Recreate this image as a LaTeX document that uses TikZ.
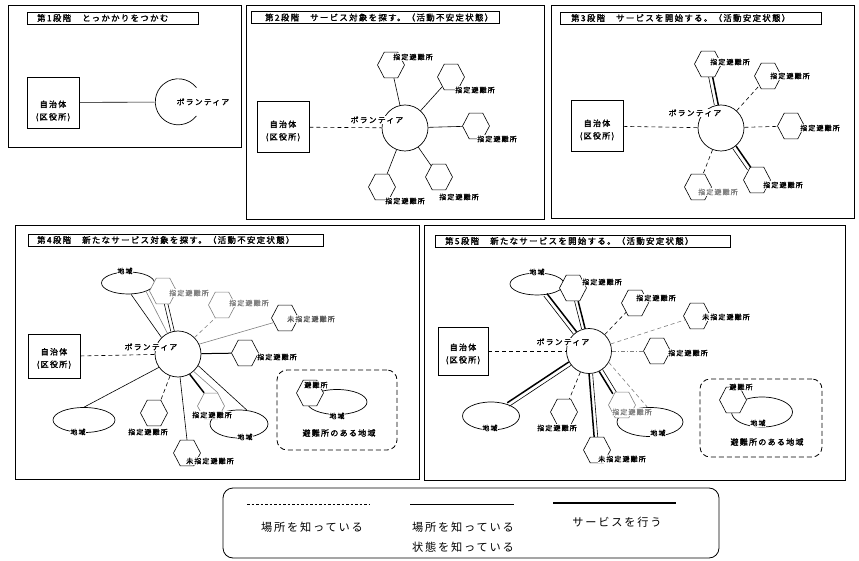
\documentclass[tikz,border=0pt]{standalone}
\usepackage{fontspec}
\newfontfamily\jp{Noto Sans CJK JP}[LetterSpace=16]
\newfontfamily\jpb{Noto Sans CJK JP}[LetterSpace=16,FakeBold=1.8]
\usetikzlibrary{shapes.geometric}
\begin{document}
\begin{tikzpicture}[x=1pt,y=1pt,
  frame/.style={draw, line width=0.8pt},
  ttlbox/.style={draw, line width=0.9pt, minimum height=12pt, inner sep=0pt, anchor=west},
  ttltext/.style={anchor=west, inner sep=0pt, font=\jpb\fontsize{8.4}{9}\selectfont},
  gov/.style={draw, line width=0.7pt, minimum width=52pt, minimum height=51pt, inner sep=0pt},
  govtext/.style={align=center, inner sep=0pt, font=\jpb\fontsize{8}{12.5}\selectfont},
  vol/.style={circle, draw, line width=0.7pt, minimum size=46pt, inner sep=0pt},
  voltext/.style={fill=white, inner sep=0.8pt, font=\jpb\fontsize{7.8}{8}\selectfont},
  hex/.style={regular polygon, regular polygon sides=6, draw, fill=white, line width=0.6pt, minimum size=27pt, inner sep=0pt, yscale=1.1, transform shape},
  area/.style={ellipse, draw, line width=0.7pt, inner sep=0pt},
  lbl/.style={fill=white, inner sep=0.6pt, font=\jpb\fontsize{7}{7}\selectfont},
  know/.style={line width=0.6pt},
  loc/.style={line width=0.6pt, dash pattern=on 4pt off 3pt},
  svc/.style={line width=1.5pt},
  grp/.style={draw, line width=0.8pt, dash pattern=on 5pt off 3pt, rounded corners=10pt},
  grptext/.style={inner sep=0pt, font=\jpb\fontsize{8}{9}\selectfont},
  legtext/.style={inner sep=0pt, font=\jp\fontsize{11.2}{12}\selectfont}
]
\useasboundingbox (0,0) rectangle (859,-561);

% ================= Panel 1 =================
\draw[frame] (8,-5) rectangle (241,-147);
\node[ttlbox, minimum width=171pt] (t1) at (27,-18) {};
\node[ttltext] (t1x) at ([xshift=10pt]t1.west) {第1段階　とっかかりをつかむ};
\node[gov] (a1) at (53,-102.5) {};
\node[govtext] (a1x) at (53,-111) {自治体\\(区役所)};
\node[vol, draw=none] (v1) at (178,-102) {};
\draw[line width=0.7pt] (v1.38) arc[start angle=38, end angle=322, radius=23pt];
\draw[know] (a1) -- (v1);
\node[inner sep=0pt, font=\jpb\fontsize{7.8}{8}\selectfont] (v1x) at (203,-102) {ボランティア};

% ================= Panel 2 =================
\draw[frame] (246,-5) rectangle (544,-219);
\node[ttlbox, minimum width=248pt] (t2) at (251,-17.5) {};
\node[ttltext] (t2x) at ([xshift=14pt]t2.west) {第2段階　サービス対象を探す。（活動不安定状態）};
\node[gov] (a2) at (283,-127) {};
\node[govtext] (a2x) at (283,-131) {自治体\\(区役所)};
\node[vol] (v2) at (405,-128) {};
\node[hex] (h21) at (391,-65) {};
\node[hex] (h22) at (451,-77) {};
\node[hex] (h23) at (476,-126) {};
\node[hex] (h24) at (382,-187) {};
\node[hex] (h25) at (439,-177) {};
\draw[loc] (a2) -- (v2);
\draw[know] (v2) -- (h21);
\draw[know] (v2) -- (h22);
\draw[know] (v2) -- (h23);
\draw[know] (v2) -- (h24);
\draw[know] (v2) -- (h25);
\node[voltext] (v2x) at (377,-120) {ボランティア};
\node[lbl] (h21x) at (413,-57) {指定避難所};
\node[lbl] (h22x) at (475,-90) {指定避難所};
\node[lbl] (h23x) at (497,-139) {指定避難所};
\node[lbl] (h24x) at (405,-201) {指定避難所};
\node[lbl] (h25x) at (459,-197) {指定避難所};

% ================= Panel 3 =================
\draw[frame] (551,-5) rectangle (854,-218);
\node[ttlbox, minimum width=261pt] (t3) at (560,-18) {};
\node[ttltext] (t3x) at ([xshift=11pt]t3.west) {第3段階　サービスを開始する。（活動安定状態）};
\node[gov] (a3) at (597,-126) {};
\node[govtext] (a3x) at (597,-130) {自治体\\(区役所)};
\node[vol] (v3) at (721,-128) {};
\node[hex] (h31) at (708,-64) {};
\node[hex] (h32) at (768,-76) {};
\node[hex] (h33) at (791,-126) {};
\node[hex] (h34) at (698,-187) {};
\node[hex] (h35) at (757,-180) {};
\draw[loc] (a3) -- (v3);
\draw[know, transform canvas={xshift=-2pt}] (h31) -- (v3);
\draw[svc, transform canvas={xshift=2pt}] (h31) -- (v3);
\draw[loc] (v3) -- (h32);
\draw[loc] (v3) -- (h33);
\draw[loc] (v3) -- (h34);
\draw[know, transform canvas={shift={(-1.7pt,-1.2pt)}}] (v3) -- (h35);
\draw[svc, transform canvas={shift={(1.7pt,1.2pt)}}] (v3) -- (h35);
\node[voltext] (v3x) at (695,-113) {ボランティア};
\node[lbl] (h31x) at (730,-62) {指定避難所};
\node[lbl] (h32x) at (790,-76) {指定避難所};
\node[lbl] (h33x) at (820,-128) {指定避難所};
\node[lbl, text=gray] (h34x) at (718,-192) {指定避難所};
\node[lbl] (h35x) at (783,-185) {指定避難所};

% ================= Panel 4 =================
\draw[frame] (15,-225) rectangle (419,-479);
\node[ttlbox, minimum width=295pt] (t4) at (28,-240) {};
\node[ttltext] (t4x) at ([xshift=9pt]t4.west) {第4段階　新たなサービス対象を探す。（活動不安定状態）};
\node[gov, minimum height=44pt] (a4) at (54,-356.5) {};
\node[govtext] (a4x) at (54,-358.5) {自治体\\(区役所)};
\node[vol] (v4) at (178,-354) {};
\node[area, minimum width=53pt, minimum height=22pt] (e41) at (128,-283) {};
\node[hex, draw=gray] (h41) at (163,-291) {};
\node[hex, draw=gray] (h42) at (222,-305) {};
\node[hex] (h43) at (285,-318) {};
\node[hex] (h44) at (245,-353) {};
\node[area, minimum width=62pt, minimum height=25pt] (e42) at (84,-420) {};
\node[hex] (h45) at (154,-413) {};
\node[hex] (h46) at (187,-453) {};
\node[area, minimum width=58pt, minimum height=28pt] (e43) at (239,-424) {};
\node[hex, draw=gray] (h47) at (211,-406) {};
\node[grp, minimum width=120pt, minimum height=80pt] (r4) at (337,-410) {};
\node[area, minimum width=60pt, minimum height=25pt] (e44) at (337,-402) {};
\node[hex] (h48) at (310,-393) {};
\draw[loc] (a4) -- (v4);
\draw[know] (e41.-75) -- (v4.135);
\draw[know, gray] (e41.-25) -- (v4.117);
\draw[know, transform canvas={xshift=-1.8pt}] (h41) -- (v4);
\draw[know, transform canvas={xshift=1.8pt}] (h41) -- (v4);
\draw[loc, gray] (v4.45) -- (h42.240);
\draw[know, gray] (v4.25) -- (h43.200);
\draw[line width=1pt] (v4) -- (h44);
\draw[know] (v4.215) -- (e42.north);
\draw[loc] (v4.250) -- (h45.60);
\draw[know] (v4.275) -- (h46.north);
\draw[svc] (v4.300) -- (h47.120);
\draw[know, gray] (v4.312) -- (h47.60);
\draw[know] (v4.330) -- (e43.60);
\node[voltext] (v4x) at (151,-347) {ボランティア};
\node[lbl] (e41x) at (125,-271) {地域};
\node[lbl, text=gray] (h41x) at (189,-293) {指定避難所};
\node[lbl, text=gray] (h42x) at (249,-303) {指定避難所};
\node[lbl, text=gray!70!black] (h43x) at (311,-319) {未指定避難所};
\node[lbl] (h44x) at (277,-357) {指定避難所};
\node[lbl] (e42x) at (78,-432) {地域};
\node[lbl] (h45x) at (148,-432) {指定避難所};
\node[lbl] (h46x) at (210,-461) {未指定避難所};
\node[lbl] (h47x) at (212,-415) {指定避難所};
\node[lbl] (e43x) at (245,-437) {地域};
\node[lbl] (h48x) at (316,-385) {避難所};
\node[lbl] (e44x) at (337,-416) {地域};
\node[grptext] (r4x) at (339,-433) {避難所のある地域};

% ================= Panel 5 =================
\draw[frame] (424,-225) rectangle (845,-480);
\node[ttlbox, minimum width=295pt] (t5) at (435,-241) {};
\node[ttltext] (t5x) at ([xshift=10pt]t5.west) {第5段階　新たなサービスを開始する。（活動安定状態）};
\node[gov, minimum width=50pt, minimum height=48pt] (a5) at (463,-351) {};
\node[govtext] (a5x) at (463,-354) {自治体\\(区役所)};
\node[vol, minimum size=45pt] (v5) at (589,-351) {};
\node[area, minimum width=54pt, minimum height=22pt] (e51) at (537,-284) {};
\node[hex] (h51) at (573,-288) {};
\node[hex] (h52) at (635,-303) {};
\node[hex] (h53) at (697,-316) {};
\node[hex] (h54) at (657,-351) {};
\node[area, minimum width=57pt, minimum height=28pt] (e52) at (491,-416) {};
\node[hex] (h55) at (564,-412) {};
\node[hex] (h56) at (597,-450) {};
\node[area, minimum width=66pt, minimum height=29pt] (e53) at (650,-422) {};
\node[hex, draw=gray] (h57) at (622,-405) {};
\node[grp, minimum width=122pt, minimum height=78pt] (r5) at (761,-418) {};
\node[area, minimum width=61pt, minimum height=30pt] (e54) at (762,-412) {};
\node[hex] (h58) at (733,-400) {};
\draw[loc] (a5) -- (v5);
\draw[know, transform canvas={shift={(-1.6pt,-1.2pt)}}] (e51) -- (v5);
\draw[svc, transform canvas={shift={(1.6pt,1.2pt)}}] (e51) -- (v5);
\draw[know, transform canvas={xshift=-1.8pt}] (h51) -- (v5);
\draw[svc, transform canvas={xshift=1.8pt}] (h51) -- (v5);
\draw[loc] (v5) -- (h52);
\draw[loc, gray] (v5) -- (h53);
\draw[gray, line width=0.6pt, dash pattern=on 4pt off 2pt on 1pt off 2pt] (v5) -- (h54);
\draw[svc, transform canvas={shift={(-1.1pt,1.7pt)}}] (v5) -- (e52);
\draw[know, transform canvas={shift={(1.1pt,-1.7pt)}}] (v5) -- (e52);
\draw[loc] (v5) -- (h55);
\draw[svc, transform canvas={xshift=-1.8pt}] (v5) -- (h56);
\draw[know, transform canvas={xshift=1.8pt}] (v5) -- (h56);
\draw[svc, transform canvas={shift={(-1.7pt,-1pt)}}] (v5) -- (h57);
\draw[know, transform canvas={shift={(1.7pt,1pt)}}] (v5) -- (h57);
\draw[loc, gray] (v5.330) -- (e53.100);
\node[voltext] (v5x) at (563,-342) {ボランティア};
\node[lbl] (e51x) at (537,-272) {地域};
\node[lbl] (h51x) at (602,-282) {指定避難所};
\node[lbl] (h52x) at (656,-298) {指定避難所};
\node[lbl] (h53x) at (726,-317) {未指定避難所};
\node[lbl] (h54x) at (688,-353) {指定避難所};
\node[lbl] (e52x) at (490,-428) {地域};
\node[lbl] (h55x) at (557,-428) {指定避難所};
\node[lbl] (h56x) at (622,-459) {未指定避難所};
\node[lbl, text=gray] (h57x) at (632,-412) {指定避難所};
\node[lbl] (e53x) at (658,-433) {地域};
\node[lbl] (h58x) at (741,-387) {避難所};
\node[lbl] (e54x) at (758,-423) {地域};
\node[grptext] (r5x) at (767,-442) {避難所のある地域};

% ================= Legend =================
\node[draw, line width=0.8pt, rounded corners=10pt, minimum width=496pt, minimum height=70pt] (lg) at (471,-523) {};
\draw[line width=0.6pt, dash pattern=on 2.5pt off 2pt] (247,-504) -- (369,-504);
\draw[know] (410,-504) -- (514,-504);
\draw[svc] (553,-503) -- (676,-503);
\node[legtext] (lg1) at (312,-527) {場所を知っている};
\node[legtext] (lg2) at (463,-527) {場所を知っている};
\node[legtext] (lg3) at (463,-547) {状態を知っている};
\node[legtext] (lg4) at (617,-522) {サービスを行う};
\end{tikzpicture}
\end{document}
